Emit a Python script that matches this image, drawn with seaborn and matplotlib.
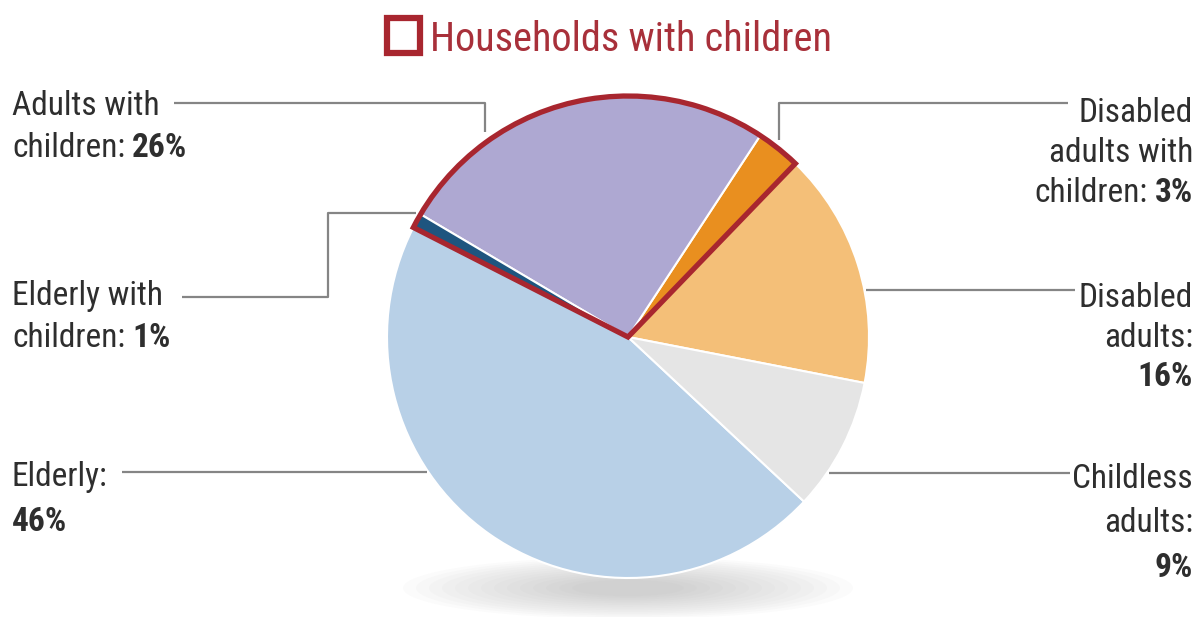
import matplotlib
matplotlib.use("Agg")
import matplotlib.pyplot as plt
import seaborn as sns
from matplotlib import font_manager
from matplotlib.patches import Wedge, Rectangle, Ellipse

W, H = 1201, 617

# data (order as drawn counterclockwise from the right)
categories = ["Disabled adults", "Disabled adults with children", "Adults with children",
              "Elderly with children", "Elderly", "Childless adults"]
shares = [16, 3, 26, 1, 46, 9]
with_children = [False, True, True, True, False, False]
colors = ["#f4bf78", "#e98f1f", "#aea8d2", "#1e557f", "#b8d0e7", "#e5e5e5"]

sns.set_theme(style="white")

# pick a narrow font if present
fam = "DejaVu Sans"
for cand in ["Liberation Sans Narrow", "Roboto Condensed", "Open Sans Condensed"]:
    try:
        font_manager.findfont(cand, fallback_to_default=False)
        fam = cand
        break
    except Exception:
        pass
plt.rcParams["font.family"] = [fam, "DejaVu Sans"]

fig = plt.figure(figsize=(W / 100, H / 100), dpi=100)
ax = fig.add_axes([0, 0, 1, 1])

cx, cy, R = 628, H - 337, 241
start = -11

# soft shadow under the pie
for k in range(14):
    ax.add_patch(Ellipse((cx, H - 588), 450 - k * 26, 62 - k * 3.5,
                         facecolor="#9a9a9a", edgecolor="none", alpha=0.035, zorder=0))

ax.pie(shares, colors=colors, startangle=start, counterclock=True,
       center=(cx, cy), radius=R,
       wedgeprops=dict(edgecolor="white", linewidth=1.5), frame=False)

# red outline around households with children
total = sum(shares)
idx = [i for i, f in enumerate(with_children) if f]
t1 = start + 360 * sum(shares[:idx[0]]) / total
t2 = start + 360 * sum(shares[:idx[-1] + 1]) / total
red = "#a8262f"
ax.add_patch(Wedge((cx, cy), R, t1, t2, facecolor="none", edgecolor=red,
                   linewidth=3.8, joinstyle="miter", zorder=5))

ax.set_xlim(0, W)
ax.set_ylim(0, H)
ax.axis("off")

# legend
ax.add_patch(Rectangle((387, H - 53), 33, 35, facecolor="white", edgecolor=red,
                       linewidth=4.5, joinstyle="miter", zorder=5))
ax.text(430, H - 51, "Households with children", color="#a8303a", fontsize=29,
        va="baseline", ha="left")

# labels
tc = "#2e2e2e"
fs = 24
lc = "#858585"
fig.canvas.draw()
rend = fig.canvas.get_renderer()


def line_left(x, y, normal, bold=None):
    t = ax.text(x, H - y, normal, fontsize=fs, color=tc, va="baseline", ha="left")
    if bold:
        w = t.get_window_extent(rend).width
        ax.text(x + w + 7, H - y, bold, fontsize=fs, color=tc, fontweight="bold",
                va="baseline", ha="left")


def line_right(x, y, normal, bold=None):
    if bold:
        b = ax.text(x, H - y, bold, fontsize=fs, color=tc, fontweight="bold",
                    va="baseline", ha="right")
        w = b.get_window_extent(rend).width
        if normal:
            ax.text(x - w - 7, H - y, normal, fontsize=fs, color=tc,
                    va="baseline", ha="right")
    else:
        ax.text(x, H - y, normal, fontsize=fs, color=tc, va="baseline", ha="right")


def leader(xs, ys):
    ax.plot(xs, [H - v for v in ys], color=lc, linewidth=1.6, solid_capstyle="butt", zorder=1)


LX, RX = 12, 1193

line_left(LX, 115, "Adults with")
line_left(LX, 157, "children:", f"{shares[2]}%")
leader([174, 485, 485], [103, 103, 132])

line_left(LX, 305, "Elderly with")
line_left(LX, 347, "children:", f"{shares[3]}%")
leader([182, 328, 328, 416], [297, 297, 213, 213])

line_left(LX, 486, "Elderly:")
ax.text(LX, H - 531, f"{shares[4]}%", fontsize=fs, color=tc, fontweight="bold", va="baseline")
leader([122, 427], [472, 472])

line_right(RX, 122, "Disabled")
line_right(RX, 162, "adults with")
line_right(RX, 202, "children:", f"{shares[1]}%")
leader([1068, 779, 779], [103, 103, 140])

line_right(RX, 307, "Disabled")
line_right(RX, 347, "adults:")
line_right(RX, 386, None, f"{shares[0]}%")
leader([866, 1075], [290, 290])

line_right(RX, 488, "Childless")
line_right(RX, 532, "adults:")
line_right(RX, 577, None, f"{shares[5]}%")
leader([829, 1070], [473, 473])

fig.savefig("out.png", dpi=100, facecolor="white")
